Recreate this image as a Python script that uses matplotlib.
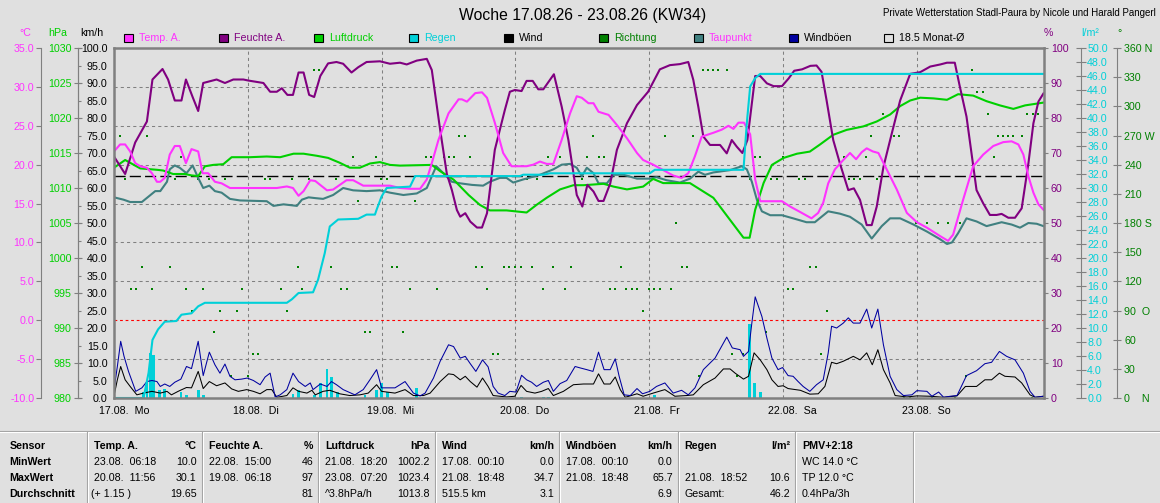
import matplotlib
matplotlib.use("Agg")
import matplotlib.pyplot as plt
from matplotlib.patches import Rectangle
from matplotlib.transforms import ScaledTranslation

plt.rcParams['font.family'] = ['Liberation Sans', 'DejaVu Sans']

# ---------------- data (x = hours since 17.08. 00:00) ----------------
day_labels = ['17.08.  Mo', '18.08.  Di', '19.08.  Mi', '20.08.  Do',
              '21.08.  Fr', '22.08.  Sa', '23.08.  So']

temp_h = [0.0, 1.1, 2.0, 2.9, 3.8, 4.7, 5.9, 6.8, 7.7, 8.3, 9.1, 10.0, 10.9, 11.8, 12.9, 13.9,
          15.1, 15.9, 16.9, 18.1, 19.3, 20.8, 22.6, 26.2, 28.0, 29.2, 31.0, 32.1, 33.1, 34.0,
          35.2, 36.1, 38.2, 39.3, 41.7, 42.9, 44.7, 47.7, 49.5, 51.3, 53.1, 54.9, 56.1, 57.0,
          58.2, 60.0, 61.8, 62.4, 63.3, 64.8, 66.0, 66.9, 68.3, 69.8, 71.3, 72.5, 74.0, 75.2,
          76.4, 77.6, 78.8, 80.3, 81.8, 83.0, 83.9, 85.1, 86.0, 86.9, 88.7, 90.2, 92.0, 93.8,
          94.9, 96.7, 98.5, 100.3, 101.8, 103.0, 104.2, 105.4, 107.5, 109.0, 110.2, 111.1,
          112.0, 113.0, 114.1, 115.0, 115.9, 119.8, 121.3, 123.1, 125.1, 126.3, 127.2, 128.1,
          129.3, 130.8, 132.0, 133.1, 134.1, 135.0, 136.1, 137.1, 138.3, 140.4, 142.2, 144.0,
          145.8, 148.2, 149.6, 150.5, 152.3, 154.1, 155.9, 157.7, 159.5, 161.0, 162.2, 163.1,
          164.0, 164.9, 165.8, 166.7]
temp_v = [21.7, 22.6, 22.6, 21.7, 20.2, 19.8, 19.6, 18.9, 17.8, 17.8, 18.3, 21.3, 22.4, 22.4,
          20.2, 22.0, 21.7, 18.9, 18.9, 17.8, 17.6, 17.0, 17.0, 17.0, 17.0, 17.0, 17.2, 17.0,
          16.0, 16.6, 18.0, 17.9, 16.7, 16.8, 18.0, 18.0, 17.3, 17.3, 17.3, 17.0, 16.9, 16.9,
          18.1, 20.2, 23.2, 26.6, 28.4, 28.4, 28.1, 29.2, 29.3, 28.6, 25.4, 21.5, 19.8, 19.8,
          19.8, 20.0, 20.4, 20.1, 20.1, 23.2, 26.6, 28.8, 28.6, 27.9, 27.9, 26.8, 26.4, 25.1,
          23.4, 21.5, 20.6, 20.0, 19.3, 18.6, 18.3, 18.9, 21.1, 23.6, 24.1, 24.5, 25.0, 24.6,
          25.4, 25.4, 23.9, 18.1, 15.3, 15.3, 14.6, 13.9, 13.1, 13.8, 15.1, 17.6, 19.4, 20.6,
          21.5, 20.7, 21.6, 22.1, 21.7, 21.5, 19.8, 16.8, 13.8, 12.6, 11.9, 10.8, 10.2, 11.0,
          15.5, 19.8, 21.3, 22.4, 22.9, 23.0, 22.6, 21.3, 18.5, 16.4, 14.9, 14.2]

hum_h = [0.0, 2.0, 3.8, 5.9, 6.9, 8.7, 9.7, 10.9, 12.1, 12.9, 14.1, 15.1, 16.0, 18.4, 19.9,
         21.4, 23.2, 24.1, 26.8, 28.0, 29.2, 30.1, 31.1, 32.1, 33.1, 34.0, 35.0, 35.9, 37.0,
         38.4, 39.9, 41.1, 42.6, 43.8, 45.3, 47.7, 49.5, 51.3, 52.5, 54.3, 56.1, 57.0, 58.5,
         59.7, 60.6, 61.5, 62.1, 63.0, 63.9, 65.1, 66.0, 66.9, 68.3, 70.1, 71.0, 71.9, 73.1,
         74.0, 75.1, 76.1, 77.0, 78.9, 80.3, 81.5, 82.4, 83.0, 84.0, 84.9, 86.0, 86.9, 87.8,
         89.0, 90.2, 92.0, 93.8, 95.8, 97.9, 99.7, 101.5, 103.0, 103.9, 104.8, 105.7, 106.9,
         108.7, 109.9, 110.8, 111.7, 112.7, 113.6, 115.0, 115.9, 117.1, 118.3, 119.8, 121.0,
         122.0, 123.4, 124.9, 126.0, 126.9, 127.8, 129.0, 130.2, 131.7, 132.7, 133.8, 135.0,
         135.9, 136.8, 138.0, 139.5, 141.0, 142.8, 144.6, 146.4, 148.2, 149.4, 150.8, 151.7,
         152.9, 154.7, 155.9, 157.1, 158.3, 159.2, 160.4, 161.6, 162.8, 164.0, 164.9, 165.8,
         166.7]
hum_v = [69, 64, 73, 79, 91, 94, 91, 85, 85, 91, 86, 82, 90, 91, 90, 91, 91, 90.7, 90, 87.5,
         87.5, 88.5, 86.6, 86.6, 93, 93, 86.6, 86, 92, 95.6, 96, 95.5, 93, 94.5, 96, 96.2, 95.5,
         95.8, 95.3, 96.4, 96.9, 93.7, 76.6, 64, 59.4, 53.7, 51.8, 52.8, 50.4, 48.7, 48.7, 52.8,
         70.9, 82.3, 87.5, 88, 87.7, 90.6, 90.6, 88.2, 88.2, 92.5, 83.2, 73.7, 64.2, 58, 54.7,
         60.9, 59, 56.3, 56.3, 61.3, 70.9, 78.5, 83.7, 87.5, 93.9, 95.1, 95.4, 96, 90.9, 83.2,
         74.7, 72.3, 72.3, 69.9, 73.7, 71.8, 70, 73.7, 92, 92, 89.9, 89.1, 89.1, 91.3, 93.5,
         93.9, 94.9, 95, 93.2, 85.1, 73.7, 67, 59.4, 59.9, 56.6, 49.4, 49.4, 54.7, 66, 75.6, 85,
         92.6, 93.1, 94.7, 95.3, 95.8, 95.8, 89, 80.4, 59.4, 55.6, 52.3, 52.3, 52.6, 51.5, 51.5,
         54.2, 67, 78.5, 84.7, 87]

press_h = [0.0, 2.0, 2.9, 4.7, 7.7, 8.8, 10.6, 12.7, 13.9, 15.1, 16.3, 17.8, 19.6, 21.1, 24.4,
           27.4, 29.8, 32.2, 34.0, 36.4, 38.4, 40.5, 42.3, 44.1, 45.9, 47.7, 49.5, 51.3, 57.0,
           58.5, 60.9, 63.6, 65.6, 67.4, 70.4, 74.0, 75.8, 77.6, 80.0, 82.4, 84.2, 86.0, 87.8,
           89.6, 92.0, 94.9, 96.7, 98.5, 101.5, 103.3, 105.1, 107.5, 109.3, 111.1, 112.9, 114.0,
           115.0, 116.5, 118.0, 120.1, 122.5, 124.8, 126.6, 129.0, 131.4, 134.4, 136.8, 139.2,
           141.0, 142.8, 144.6, 147.0, 149.4, 151.4, 154.1, 156.5, 158.9, 161.3, 163.4, 166.7]
press_v = [1012.9, 1014.0, 1013.6, 1012.8, 1012.6, 1012.5, 1012.0, 1012.0, 1011.8, 1011.7,
           1013.1, 1013.3, 1013.4, 1014.4, 1014.4, 1014.5, 1014.4, 1014.9, 1014.9, 1014.6,
           1014.3, 1013.6, 1012.9, 1012.9, 1013.5, 1013.7, 1013.3, 1013.2, 1013.3, 1012.4,
           1011.2, 1009.0, 1007.6, 1006.8, 1006.8, 1006.5, 1007.6, 1008.6, 1009.8, 1010.4,
           1010.4, 1010.5, 1010.6, 1010.2, 1009.8, 1010.2, 1011.3, 1010.7, 1010.7, 1010.7,
           1009.8, 1008.6, 1006.7, 1004.8, 1002.9, 1002.9, 1006.9, 1010.7, 1013.3, 1014.3,
           1014.9, 1015.2, 1016.2, 1017.6, 1018.3, 1018.8, 1019.5, 1020.5, 1021.7, 1022.5,
           1022.9, 1022.8, 1022.6, 1023.4, 1023.2, 1022.4, 1021.8, 1021.3, 1021.8, 1022.2]

dew_h = [0.0, 1.7, 2.9, 5.0, 6.2, 7.4, 8.3, 9.5, 10.0, 10.9, 11.8, 13.0, 14.1, 15.1, 16.0, 17.1,
         18.1, 19.3, 20.8, 22.6, 27.4, 28.6, 30.4, 32.8, 33.7, 34.9, 36.1, 37.5, 39.3, 41.1,
         42.9, 45.3, 47.7, 49.5, 51.9, 54.3, 56.1, 57.0, 57.8, 58.8, 60.6, 62.1, 64.2, 66.2,
         67.4, 69.2, 70.4, 71.6, 73.4, 76.4, 78.8, 80.3, 81.8, 83.0, 83.9, 84.8, 86.0, 86.9,
         88.4, 89.6, 91.4, 93.8, 96.1, 97.3, 99.1, 101.5, 103.3, 104.8, 106.0, 107.5, 110.5,
         112.6, 113.5, 114.4, 115.3, 116.2, 117.7, 119.8, 121.8, 124.2, 125.7, 128.1, 130.2,
         132.0, 134.1, 135.9, 137.7, 139.2, 141.0, 143.4, 145.8, 148.2, 149.4, 150.3, 151.4,
         152.9, 154.7, 156.5, 159.2, 161.0, 162.5, 164.0, 165.5, 166.7]
dew_v = [15.8, 15.5, 15.2, 15.2, 15.9, 16.6, 16.6, 17.8, 19.4, 19.9, 19.6, 18.9, 19.9, 18.3,
         17.0, 17.3, 16.6, 16.4, 15.6, 15.4, 15.3, 14.7, 14.9, 14.7, 15.5, 15.8, 15.7, 15.6,
         16.1, 17.0, 16.7, 16.6, 16.7, 16.4, 16.1, 16.3, 17.0, 18.5, 19.8, 19.1, 17.8, 17.6,
         17.4, 17.3, 17.8, 18.3, 18.3, 17.7, 18.1, 18.7, 19.4, 20.0, 20.1, 19.6, 18.5, 19.6,
         18.9, 17.6, 17.6, 18.7, 18.7, 18.2, 18.2, 18.4, 18.0, 17.7, 18.2, 19.1, 18.7, 19.0,
         19.3, 19.8, 19.4, 17.8, 15.5, 14.0, 13.5, 13.5, 13.1, 12.6, 12.6, 14.0, 13.7, 13.3,
         12.3, 10.5, 12.1, 13.1, 13.1, 12.3, 11.4, 10.4, 9.8, 10.0, 11.2, 13.1, 12.7, 12.1,
         12.6, 12.3, 11.9, 12.5, 12.4, 12.1]

rain_h = [0.0, 5.3, 6.2, 6.9, 7.9, 9.1, 11.2, 12.1, 13.9, 15.1, 16.3, 31.0, 31.9, 33.1, 35.7,
          36.6, 37.8, 38.7, 40.2, 43.8, 45.3, 46.8, 47.1, 48.0, 48.9, 53.1, 54.0, 72.8, 73.4,
          77.0, 78.2, 96.1, 97.0, 112.9, 113.5, 114.1, 115.0, 115.9, 166.7]
rain_v = [0, 0, 3.6, 8.3, 9.8, 10.9, 11.0, 11.9, 12.1, 13.1, 13.6, 13.6, 14.1, 15.0, 15.1,
          16.9, 20.7, 24.5, 25.5, 25.6, 26.2, 26.2, 26.9, 28.8, 30.0, 30.2, 31.7, 31.7, 31.9,
          31.9, 32.1, 32.1, 32.6, 32.6, 39.3, 44.5, 45.7, 46.3, 46.3]

rain_bar_h = [5.3, 5.9, 6.6, 7.1, 8.1, 9.0, 12.0, 13.0, 15.1, 16.0, 32.1, 33.1, 35.9, 37.0, 38.2,
              39.0, 40.1, 45.0, 47.1, 48.0, 49.0, 54.2, 73.1, 77.0, 77.9, 96.9, 114.0, 114.9, 116.0]
rain_bar_v = [0.9, 2.5, 6.5, 6.1, 1.2, 1.3, 0.9, 0.5, 1.2, 0.5, 0.6, 1.2, 0.5, 2.2, 4.2, 3.0,
              0.9, 0.5, 1.2, 2.1, 0.9, 1.4, 0.2, 0.2, 0.2, 0.5, 10.6, 2.1, 0.9]

gust_h = [0.0, 0.6, 1.2, 1.8, 2.6, 3.9, 5.0, 5.9, 6.8, 7.7, 8.3, 9.1, 10.0, 10.9, 12.0, 13.0,
          13.9, 15.1, 16.0, 17.1, 18.1, 19.0, 19.9, 20.8, 21.7, 22.9, 23.9, 25.0, 26.2, 27.1,
          28.0, 28.9, 29.8, 31.0, 32.1, 33.1, 34.3, 35.2, 35.7, 37.0, 38.2, 39.0, 39.9, 41.1,
          43.2, 44.7, 45.9, 47.1, 48.0, 50.4, 52.2, 53.7, 54.9, 55.8, 57.3, 58.5, 60.0, 60.9,
          62.1, 63.0, 63.9, 64.9, 66.1, 67.1, 68.0, 68.9, 70.1, 71.0, 72.1, 73.1, 74.0, 74.9,
          75.8, 77.0, 77.9, 78.8, 80.0, 81.2, 82.7, 83.6, 84.8, 85.9, 86.9, 87.9, 89.0, 89.9,
          90.6, 91.5, 92.6, 93.8, 94.8, 96.1, 97.3, 98.8, 100.3, 101.8, 103.0, 104.2, 105.7,
          107.8, 109.9, 110.9, 112.3, 112.9, 113.8, 114.4, 115.0, 116.2, 117.1, 118.0, 119.1,
          119.9, 120.9, 121.8, 122.7, 123.6, 124.8, 126.0, 127.2, 128.1, 128.7, 129.6, 130.8,
          131.7, 132.6, 133.8, 135.0, 135.9, 137.0, 138.0, 139.2, 140.4, 141.6, 143.1, 144.0,
          145.8, 146.7, 147.9, 148.8, 150.0, 151.2, 152.9, 154.7, 156.2, 157.4, 158.8, 160.1,
          161.6, 163.1, 164.3, 165.2, 166.7]
gust_v = [2.4, 9.0, 16.2, 11.9, 7.6, 1.9, 2.9, 4.7, 5.0, 4.7, 3.3, 4.0, 3.3, 4.5, 5.4, 9.0, 8.4,
          16.2, 6.4, 13.1, 9.5, 7.1, 9.7, 6.2, 5.2, 5.4, 5.7, 5.0, 3.8, 6.0, 7.1, 0.3, 0.9, 2.4,
          7.1, 4.7, 3.3, 4.3, 2.4, 4.0, 3.3, 4.7, 3.8, 2.4, 0.9, 2.4, 5.2, 8.1, 2.9, 2.9, 4.7,
          1.4, 0.6, 1.4, 5.7, 10.5, 15.2, 14.7, 11.4, 11.9, 9.8, 7.6, 10.9, 8.9, 3.3, 1.4, 0.7,
          1.9, 1.7, 6.5, 5.2, 4.5, 3.3, 4.5, 5.0, 1.9, 4.1, 5.0, 9.0, 8.6, 8.1, 7.6, 13.1, 8.1,
          8.1, 11.2, 6.2, 0.9, 0.7, 2.7, 1.2, 1.9, 3.3, 4.3, 1.4, 2.2, 0.9, 2.9, 8.1, 11.4, 17.4,
          14.3, 13.8, 11.9, 13.3, 21.4, 28.9, 23.3, 17.1, 11.4, 8.1, 8.7, 6.4, 6.2, 4.7, 3.3,
          1.9, 3.8, 5.2, 12.9, 20.5, 20.0, 21.4, 22.9, 21.4, 21.4, 25.4, 20.0, 25.4, 15.2, 6.2,
          2.4, 0.7, 0.9, 2.1, 1.9, 0.5, 1.7, 0.2, 0.5, 0.7, 6.4, 7.8, 9.8, 10.2, 13.3, 11.9,
          10.9, 7.1, 1.9, 0.2, 0.5]

wind_h = [0.0, 0.6, 1.2, 2.0, 2.9, 4.1, 5.3, 6.8, 8.3, 9.5, 10.3, 11.5, 13.0, 13.9, 15.1, 16.0,
          17.1, 18.4, 19.9, 21.1, 22.3, 23.8, 25.0, 26.2, 27.4, 28.3, 29.2, 31.0, 32.1, 33.1,
          34.6, 35.5, 36.1, 37.5, 38.7, 40.5, 42.3, 44.1, 45.6, 47.1, 48.0, 50.4, 52.2, 53.7,
          55.5, 56.7, 58.5, 60.0, 60.9, 62.1, 63.0, 63.9, 65.1, 66.1, 67.1, 68.0, 70.4, 71.9,
          73.0, 74.0, 75.5, 76.7, 77.9, 78.8, 80.6, 82.4, 84.2, 86.0, 86.9, 87.9, 89.0, 89.9,
          90.8, 91.7, 93.8, 94.9, 96.7, 98.8, 100.6, 102.7, 103.9, 105.7, 107.8, 109.3, 110.5,
          111.4, 112.9, 113.8, 114.8, 115.9, 117.1, 118.0, 119.1, 120.0, 120.9, 123.1, 124.8,
          126.3, 127.5, 128.7, 129.6, 130.8, 132.6, 133.8, 135.0, 136.0, 137.0, 138.0, 139.2,
          140.1, 142.2, 144.0, 146.4, 148.8, 151.2, 152.7, 154.7, 156.2, 157.4, 158.8, 159.8,
          161.6, 162.8, 164.3, 165.2, 166.7]
wind_v = [0.6, 5.2, 9.0, 5.2, 3.3, 0.9, 1.4, 1.9, 1.4, 1.9, 0.9, 1.9, 3.0, 2.9, 7.6, 2.7, 4.7,
          3.5, 4.3, 2.6, 1.9, 2.4, 1.9, 1.2, 2.4, 2.4, 0.2, 0.7, 2.9, 1.9, 1.4, 2.2, 0.9, 1.9,
          2.2, 1.2, 0.7, 0.9, 1.4, 3.8, 1.9, 1.4, 2.4, 0.7, 0.7, 1.4, 4.7, 6.9, 6.7, 5.2, 6.2,
          4.7, 3.1, 5.7, 3.3, 0.7, 0.3, 0.5, 3.6, 1.9, 1.4, 1.9, 2.7, 0.7, 1.9, 3.8, 4.0, 4.0,
          6.9, 4.0, 4.0, 6.0, 2.4, 0.2, 1.2, 0.5, 1.4, 2.4, 0.5, 0.7, 0.9, 3.8, 5.7, 8.3, 8.3,
          7.1, 5.4, 6.2, 12.9, 10.9, 8.1, 5.2, 3.3, 3.5, 2.7, 2.2, 1.1, 1.2, 3.3, 10.2, 9.8,
          10.5, 11.9, 10.9, 12.9, 9.5, 13.8, 8.1, 4.3, 0.7, 0.3, 0.6, 0.5, 0.2, 0.6, 3.3, 3.3,
          5.2, 5.2, 7.1, 6.2, 6.0, 4.3, 0.9, 0.2, 0.5]

dir_h = [1.1, 2.0, 3.0, 3.9, 5.0, 5.9, 6.9, 10.0, 10.9, 12.0, 12.9, 13.9, 15.1, 15.9, 17.1,
         17.9, 19.0, 19.9, 21.0, 22.0, 22.9, 24.1, 25.0, 25.9, 27.0, 27.9, 30.0, 31.0, 32.0,
         33.0, 33.8, 35.0, 35.9, 36.8, 38.0, 38.9, 39.9, 40.8, 41.8, 42.9, 43.8, 45.0, 45.9,
         47.0, 47.9, 48.9, 49.9, 50.8, 51.9, 53.0, 54.0, 56.0, 56.8, 57.9, 59.1, 60.0, 61.0,
         61.9, 63.0, 63.9, 64.9, 66.0, 66.9, 68.0, 68.9, 70.0, 70.9, 71.9, 73.0, 74.0, 74.9,
         75.8, 76.9, 77.8, 78.8, 80.0, 80.9, 81.9, 83.9, 84.8, 85.9, 86.9, 87.8, 89.0, 89.9,
         90.9, 91.8, 92.9, 93.8, 94.8, 96.0, 96.9, 97.9, 98.8, 99.9, 100.8, 101.8, 102.8,
         103.9, 104.9, 105.7, 106.6, 107.5, 108.4, 109.9, 110.8, 111.8, 112.8, 114.0, 114.9,
         115.9, 116.9, 117.8, 118.9, 119.9, 120.8, 121.8, 122.9, 123.9, 124.8, 125.9, 126.8,
         127.8, 131.0, 131.9, 132.8, 133.8, 134.9, 135.8, 136.8, 137.9, 139.9, 140.8, 141.7,
         142.8, 143.9, 145.8, 146.8, 147.7, 148.8, 149.6, 150.8, 151.7, 152.8, 153.8, 154.7,
         155.8, 156.8, 157.8, 158.6, 159.5, 160.4, 161.3, 162.8, 163.7, 164.6, 164.9, 165.8]
dir_v = [270, 225, 112.5, 112.5, 135, 270, 112.5, 135, 225, 247.5, 112.5, 90, 225, 112.5, 225,
         67.5, 90, 225, 22.5, 90, 112.5, 22.5, 45, 45, 225, 225, 112.5, 90, 225, 135, 112.5,
         225, 337.5, 337.5, 360, 135, 225, 112.5, 112.5, 247.5, 202.5, 67.5, 67.5, 247.5, 225,
         225, 135, 135, 67.5, 112.5, 202.5, 247.5, 247.5, 112.5, 247.5, 247.5, 247.5, 270, 270,
         247.5, 135, 135, 112.5, 45, 45, 135, 135, 135, 135, 225, 135, 225, 112.5, 247.5, 135,
         247.5, 112.5, 135, 225, 247.5, 270, 247.5, 247.5, 112.5, 112.5, 135, 112.5, 112.5,
         112.5, 90, 112.5, 112.5, 112.5, 270, 112.5, 180, 135, 135, 270, 22.5, 337.5, 337.5,
         337.5, 337.5, 337.5, 45, 22.5, 45, 225, 247.5, 247.5, 67.5, 225, 225, 247.5, 112.5,
         112.5, 225, 225, 135, 135, 45, 90, 247.5, 225, 225, 225, 247.5, 270, 225, 292.5, 270,
         270, 0, 0, 180, 180, 0, 180, 0, 180, 0, 180, 22.5, 337.5, 315, 315, 292.5, 247.5, 270,
         270, 270, 270, 270, 292.5, 0, 292.5, 292.5]

month_avg = 18.5

# summary table below the chart
row_names = ['MinWert', 'MaxWert', 'Durchschnitt']
table_cols = [
    ('Temp. A.', '°C', [('23.08.  06:18', '10.0'), ('20.08.  11:56', '30.1'), ('(+ 1.15 )', '19.65')]),
    ('Feuchte A.', '%', [('22.08.  15:00', '46'), ('19.08.  06:18', '97'), ('', '81')]),
    ('Luftdruck', 'hPa', [('21.08.  18:20', '1002.2'), ('23.08.  07:20', '1023.4'), ('^3.8hPa/h', '1013.8')]),
    ('Wind', 'km/h', [('17.08.  00:10', '0.0'), ('21.08.  18:48', '34.7'), ('515.5 km', '3.1')]),
    ('Windböen', 'km/h', [('17.08.  00:10', '0.0'), ('21.08.  18:48', '65.7'), ('', '6.9')]),
    ('Regen', 'l/m²', [('', ''), ('21.08.  18:52', '10.6'), ('Gesamt:', '46.2')]),
    ('PMV+2:18', '', [('WC 14.0 °C', ''), ('TP 12.0 °C', ''), ('0.4hPa/3h', '')]),
]

# ---------------- styling ----------------
BG = '#E0E0E0'
C_TEMP = '#FF33FF'
C_HUM = '#800080'
C_PRESS = '#00D000'
C_RAIN = '#00D0D8'
C_DIR = '#008000'
C_DEW = '#408080'
C_GUST = '#0000A0'
GRAY = '#808080'
FS = 7.7

W, H = 1160, 503
L, R, T, B = 114, 1044, 48, 398

fig = plt.figure(figsize=(W / 100, H / 100), dpi=100, facecolor=BG)
ax = fig.add_axes([L / W, 1 - B / H, (R - L) / W, (B - T) / H])
ax.set_facecolor(BG)
ax.set_xlim(0, 166.8)
ax.set_ylim(0, 100)
for s in ax.spines.values():
    s.set_color(GRAY)
    s.set_linewidth(1.8)
    s.set_zorder(10)
ax.set_yticks([])


def side_axis(ylim, side, pos_px, ticks, labels, color, tdir, tlen, pad, line=True):
    t = ax.twinx()
    t.set_ylim(*ylim)
    for s in t.spines.values():
        s.set_visible(False)
    t.yaxis.set_ticks_position(side)
    sp = t.spines[side]
    sp.set_position(('axes', (pos_px - L) / (R - L)))
    sp.set_visible(line)
    sp.set_color(GRAY)
    sp.set_linewidth(0.8)
    t.set_yticks(ticks, labels)
    t.tick_params(axis='y', colors=GRAY, labelcolor=color, direction=tdir,
                  length=tlen, width=0.8, pad=pad, labelsize=FS)
    return t


ax_t = side_axis((-10, 35), 'left', 40.7, list(range(-10, 36, 5)),
                 [f'{v:.1f}' for v in range(-10, 36, 5)], C_TEMP, 'out', 3.6, 1.0)
ax_p = side_axis((980, 1030), 'left', 77.7, list(range(980, 1031, 5)),
                 [str(v) for v in range(980, 1031, 5)], C_PRESS, 'inout', 5.8, 1.3)
ax_k = side_axis((0, 100), 'right', 77.7, list(range(0, 101, 5)),
                 [f'{v:.1f}' for v in range(0, 101, 5)], 'black', 'out', 2.2, 19.2)
for lab in ax_k.get_yticklabels():
    lab.set_horizontalalignment('right')
ax_h = side_axis((0, 100), 'right', R, list(range(0, 101, 10)),
                 [str(v) for v in range(0, 101, 10)], C_HUM, 'out', 3.0, 2.0, line=False)
ax_r = side_axis((0, 50), 'right', 1080.7, list(range(0, 51, 2)),
                 [f'{v:.1f}' for v in range(0, 51, 2)], C_RAIN, 'inout', 6.5, 1.5)
dir_labels = {0: '0    N', 90: '90  O', 180: '180 S', 270: '270 W', 360: '360 N'}
ax_d = side_axis((0, 360), 'right', 1117.3, list(range(0, 361, 30)),
                 [dir_labels.get(v, str(v)) for v in range(0, 361, 30)], C_DIR, 'inout', 5.8, 2.0)

# x axis: days
ax.set_xticks([24 * i for i in range(len(day_labels))], day_labels)
ax.tick_params(axis='x', length=0, pad=6, labelsize=FS, labelcolor='black')
for lab in ax.get_xticklabels():
    lab.set_horizontalalignment('left')
    lab.set_transform(lab.get_transform() + ScaledTranslation(-0.15, 0, fig.dpi_scale_trans))

# grid (temperature steps) and reference lines
for d in range(1, 7):
    ax.axvline(24 * d, color=GRAY, lw=0.75, ls=(0, (3, 3)), zorder=1)
for tv in [-5, 5, 10, 15, 20, 25, 30]:
    ax.plot([0, 166.8], [tv, tv], color=GRAY, lw=0.75, ls=(0, (3, 3)), zorder=1,
            transform=ax_t.transData)
ax.plot([0, 166.8], [0, 0], color='red', lw=0.8, ls=(0, (2.5, 2.5)), zorder=1.2,
        transform=ax_t.transData)
ax.plot([0, 166.8], [month_avg, month_avg], color='black', lw=1.0, ls=(0, (8, 3)), zorder=1.3,
        transform=ax_t.transData)

# series
ax.plot(dir_h, dir_v, 's', color=C_DIR, ms=1.7, mew=0, ls='none', zorder=2,
        transform=ax_d.transData)
ax.bar(rain_bar_h, rain_bar_v, width=0.5, color=C_RAIN, linewidth=0, zorder=2.5,
       transform=ax_r.transData)
ax.plot(wind_h, wind_v, color='black', lw=0.75, zorder=3)
ax.plot(gust_h, gust_v, color=C_GUST, lw=0.75, zorder=3.1)
ax.plot(dew_h, dew_v, color=C_DEW, lw=1.5, zorder=4, transform=ax_t.transData)
ax.plot(press_h, press_v, color=C_PRESS, lw=1.5, zorder=4.2, transform=ax_p.transData)
ax.plot(hum_h, hum_v, color=C_HUM, lw=1.5, zorder=4.5, transform=ax_h.transData)
ax.plot(temp_h, temp_v, color=C_TEMP, lw=1.5, zorder=4.6, transform=ax_t.transData)
ax.plot(rain_h, rain_v, color=C_RAIN, lw=1.5, zorder=4.8, transform=ax_r.transData)

# ---------------- overlay in pixel coordinates: titles, legend, table ----------------
ov = fig.add_axes([0, 0, 1, 1])
ov.set_xlim(0, W)
ov.set_ylim(H, 0)
ov.axis('off')

ov.text(582.5, 15, 'Woche 17.08.26 - 23.08.26 (KW34)', ha='center', va='center', fontsize=11.3)
ov.text(1156, 12.5, 'Private Wetterstation Stadl-Paura by Nicole und Harald Pangerl',
        ha='right', va='center', fontsize=7)

for x, txt, col in [(25, '°C', C_TEMP), (57.5, 'hPa', C_PRESS), (92, 'km/h', 'black'),
                    (1048.5, '%', C_HUM), (1090, 'l/m²', C_RAIN), (1120, '°', C_DIR)]:
    ov.text(x, 33, txt, ha='center', va='center', fontsize=FS, color=col)

leg_names = ['Temp. A.', 'Feuchte A.', 'Luftdruck', 'Regen', 'Wind', 'Richtung',
             'Taupunkt', 'Windböen', '18.5 Monat-Ø']
leg_fill = [C_TEMP, C_HUM, C_PRESS, C_RAIN, 'black', C_DIR, C_DEW, C_GUST, BG]
leg_text = [C_TEMP, C_HUM, C_PRESS, C_RAIN, 'black', C_DIR, C_TEMP, 'black', 'black']
for i, name in enumerate(leg_names):
    x0 = 124.3 + 95 * i
    ov.add_patch(Rectangle((x0, 33.5), 8.5, 8.5, facecolor=leg_fill[i], edgecolor='black', lw=0.8))
    ov.text(x0 + 14.5, 38, name, ha='left', va='center', fontsize=FS, color=leg_text[i])

# table frame
ov.plot([0, W], [431, 431], color='#A0A0A0', lw=0.8)
ov.plot([0, W], [432, 432], color='white', lw=0.8)
seps = [87.3, 201.7, 318.3, 435, 559.3, 677.7, 795, 912.7]
for sx in seps:
    ov.plot([sx, sx], [432, H], color='#A0A0A0', lw=0.8)
    ov.plot([sx + 1, sx + 1], [432, H], color='white', lw=0.8)

row_y = [445.7, 461.7, 477.7, 494]
ov.text(9.3, row_y[0], 'Sensor', ha='left', va='center', fontsize=FS, fontweight='bold')
for r, name in enumerate(row_names):
    ov.text(9.3, row_y[r + 1], name, ha='left', va='center', fontsize=FS, fontweight='bold')
for c, (head, unit, rows) in enumerate(table_cols):
    xl = seps[c] + 7
    xr = seps[c + 1] - 5
    ov.text(xl, row_y[0], head, ha='left', va='center', fontsize=FS, fontweight='bold')
    if unit:
        ov.text(xr, row_y[0], unit, ha='right', va='center', fontsize=FS, fontweight='bold')
    for r, (left, right) in enumerate(rows):
        ov.text(xl - (3 if left.startswith('(') else 0), row_y[r + 1], left,
                ha='left', va='center', fontsize=FS)
        ov.text(xr, row_y[r + 1], right, ha='right', va='center', fontsize=FS)

fig.savefig('out.png', dpi=100, facecolor=BG)
